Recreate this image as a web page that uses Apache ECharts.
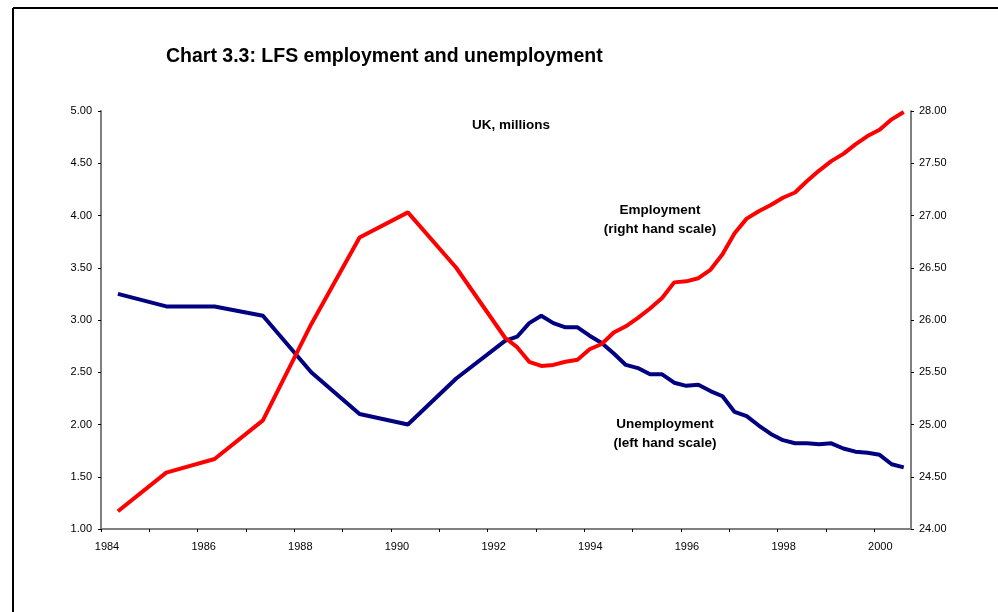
<!DOCTYPE html>
<html>
<head>
<meta charset="utf-8">
<script src="https://cdn.jsdelivr.net/npm/echarts@6/dist/echarts.min.js"></script>
<style>
  html, body { margin: 0; padding: 0; background: #fff; }
  #chart { width: 998px; height: 612px; }
</style>
</head>
<body>
<div id="chart"></div>
<script>
// LFS: annual spring points to 1992, then quarterly
const years = [
  1984.35, 1985.35, 1986.35, 1987.35, 1988.35, 1989.35, 1990.35, 1991.35,
  1992.36, 1992.61, 1992.86, 1993.11, 1993.36, 1993.61, 1993.86, 1994.11,
  1994.36, 1994.61, 1994.86, 1995.11, 1995.36, 1995.61, 1995.86, 1996.11,
  1996.36, 1996.61, 1996.86, 1997.11, 1997.36, 1997.61, 1997.86, 1998.11,
  1998.36, 1998.61, 1998.86, 1999.11, 1999.36, 1999.61, 1999.86, 2000.11,
  2000.36, 2000.61
]
// unemployment, millions (left scale)
const unemployment = [
  3.25, 3.13, 3.13, 3.04, 2.50, 2.10, 2.00, 2.44,
  2.80, 2.84, 2.97, 3.04, 2.97, 2.93, 2.93, 2.85,
  2.78, 2.68, 2.57, 2.54, 2.48, 2.48, 2.40, 2.37,
  2.38, 2.32, 2.27, 2.12, 2.08, 1.99, 1.91, 1.85,
  1.82, 1.82, 1.81, 1.82, 1.77, 1.74, 1.73, 1.71,
  1.62, 1.59
]
// employment, millions (right scale)
const employment = [
  24.17, 24.54, 24.67, 25.04, 25.96, 26.79, 27.03, 26.50,
  25.83, 25.74, 25.60, 25.56, 25.57, 25.60, 25.62, 25.72,
  25.77, 25.88, 25.94, 26.02, 26.11, 26.21, 26.36, 26.37,
  26.40, 26.48, 26.63, 26.83, 26.97, 27.04, 27.10, 27.17,
  27.22, 27.33, 27.43, 27.52, 27.59, 27.68, 27.76, 27.82,
  27.92, 27.99
]

const chart = echarts.init(document.getElementById('chart'))
const font = 'Liberation Sans, Arial, sans-serif'
const axisLabel = { color: '#000', fontFamily: font, fontSize: 11 }
const noteFont = 'bold 13.5px ' + font

chart.setOption({
  animation: false,
  title: {
    text: 'Chart 3.3: LFS employment and unemployment',
    left: 166, top: 47, padding: 0,
    textStyle: { fontFamily: font, fontSize: 19.5, fontWeight: 'bold', color: '#000' }
  },
  grid: { left: 101, right: 87, top: 111, bottom: 83 },
  xAxis: {
    type: 'value', min: 1984, max: 2000.76, interval: 1,
    axisLine: { lineStyle: { color: '#808080', width: 2 } },
    axisTick: { show: true, length: 3, lineStyle: { color: '#000' } },
    axisLabel: {
      ...axisLabel, margin: 12, showMaxLabel: false, padding: [0, 0, 0, 12],
      formatter: v => (v % 2 === 0 ? String(v) : '')
    },
    splitLine: { show: false }
  },
  yAxis: [
    {
      type: 'value', min: 1, max: 5, interval: 0.5,
      axisLine: { show: true, lineStyle: { color: '#808080', width: 2 } },
      axisTick: { show: true, length: 3, lineStyle: { color: '#000' } },
      axisLabel: { ...axisLabel, margin: 9, formatter: v => v.toFixed(2) },
      splitLine: { show: false }
    },
    {
      type: 'value', min: 24, max: 28, interval: 0.5, position: 'right',
      axisLine: { show: true, lineStyle: { color: '#808080', width: 2 } },
      axisTick: { show: true, length: 3, lineStyle: { color: '#000' } },
      axisLabel: { ...axisLabel, margin: 8, formatter: v => v.toFixed(2) },
      splitLine: { show: false }
    }
  ],
  series: [
    {
      name: 'Unemployment', type: 'line', yAxisIndex: 0, symbol: 'none',
      data: years.map((y, i) => [y, unemployment[i]]),
      lineStyle: { color: '#000080', width: 4 }
    },
    {
      name: 'Employment', type: 'line', yAxisIndex: 1, symbol: 'none',
      data: years.map((y, i) => [y, employment[i]]),
      lineStyle: { color: '#ff0000', width: 4 }
    }
  ],
  graphic: [
    // outer frame (left and top edges)
    { type: 'line', shape: { x1: 13, y1: 8, x2: 998, y2: 8 }, style: { stroke: '#000', lineWidth: 2 } },
    { type: 'line', shape: { x1: 13, y1: 8, x2: 13, y2: 612 }, style: { stroke: '#000', lineWidth: 2 } },
    { type: 'text', x: 511, y: 125, style: { text: 'UK, millions', font: noteFont, fill: '#000', align: 'center', verticalAlign: 'middle' } },
    { type: 'text', x: 660, y: 220, style: { text: 'Employment\n(right hand scale)', font: noteFont, fill: '#000', align: 'center', verticalAlign: 'middle', lineHeight: 19 } },
    { type: 'text', x: 665, y: 434, style: { text: 'Unemployment\n(left hand scale)', font: noteFont, fill: '#000', align: 'center', verticalAlign: 'middle', lineHeight: 19 } }
  ]
})
</script>
</body>
</html>
